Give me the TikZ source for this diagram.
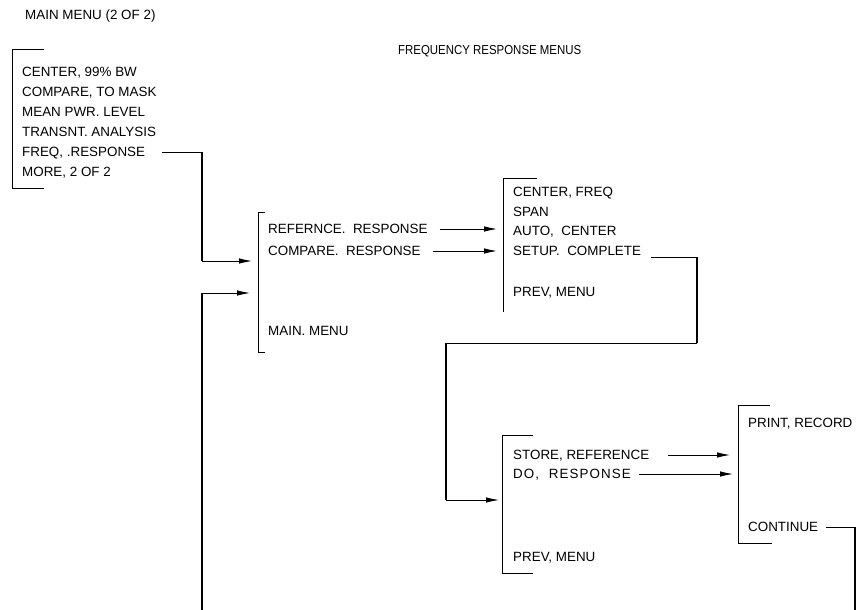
\documentclass[tikz,border=0pt]{standalone}
\usepackage{fontspec}
\setmainfont{Liberation Sans}
\usetikzlibrary{arrows.meta}
\begin{document}
\begin{tikzpicture}[x=1pt,y=-1pt,
  lbl/.style={anchor=west,inner sep=0pt,text height=9.6pt,text depth=0pt,font=\fontsize{13.4}{16}\selectfont},
  hdr/.style={lbl,font=\fontsize{13}{16}\selectfont\addfontfeature{FakeStretch=0.88}},
  brk/.style={line width=0.8pt},
  conn/.style={line width=0.9pt},
  vconn/.style={line width=2pt},
  arr/.style={conn,-{Latex[length=13pt,width=5.5pt]}}]
\useasboundingbox (0,0) rectangle (857,610);

% titles
\node[lbl] (title) at (25,15) {MAIN MENU (2 OF 2)};
\node[hdr] (frm) at (398,50) {FREQUENCY RESPONSE MENUS};

% box 1
\draw[brk] (44,49) -- (12,49) -- (12,188) -- (44,188);
\node[lbl] (m1) at (22,72)  {CENTER, 99\% BW};
\node[lbl] (m2) at (22,92)  {COMPARE, TO MASK};
\node[lbl] (m3) at (22,112) {MEAN PWR. LEVEL};
\node[lbl] (m4) at (22,132) {TRANSNT.\ ANALYSIS};
\node[lbl] (m5) at (22,152) {FREQ, .RESPONSE};
\node[lbl] (m6) at (22,172) {MORE, 2 OF 2};

% box 2
\draw[brk] (265,212) -- (258,212) -- (258,352) -- (265,352);
\node[lbl] (r1) at (268,229) {REFERNCE.\ \ RESPONSE};
\node[lbl] (r2) at (268,251) {COMPARE.\ \ RESPONSE};
\node[lbl] (r3) at (268,331) {MAIN. MENU};

% box 3
\draw[brk] (537,178) -- (503,178) -- (503,312);
\node[lbl] (c1) at (513,192) {CENTER, FREQ};
\node[lbl] (c2) at (513,212) {SPAN};
\node[lbl] (c3) at (513,231) {AUTO,\ \ CENTER};
\node[lbl] (c4) at (513,251) {SETUP.\ \ COMPLETE};
\node[lbl] (c5) at (513,292) {PREV, MENU};

% box 4
\draw[brk] (533,435) -- (502,435) -- (502,573) -- (533,573);
\node[lbl] (s1) at (513,455) {STORE, REFERENCE};
\node[lbl] (s2) at (513,474) {\addfontfeature{LetterSpace=8}DO,\ \ RESPONSE};
\node[lbl] (s3) at (513,557) {PREV, MENU};

% box 5
\draw[brk] (770,405) -- (738,405) -- (738,543) -- (772,543);
\node[lbl] (p1) at (748,423) {PRINT, RECORD};
\node[lbl] (p2) at (748,527) {CONTINUE};

% connector points
\coordinate (b2a) at (252,261);
\coordinate (b2b) at (250,293);
\coordinate (b3a) at (497,229);
\coordinate (b3b) at (497,251);
\coordinate (b4a) at (499,500);
\coordinate (b5a) at (730,455);
\coordinate (b5b) at (733,474);
\coordinate (t1) at (202,152);
\coordinate (t2) at (697,257);
\coordinate (t3) at (697,343);
\coordinate (t4) at (446,343);
\coordinate (t5) at (855,527);
\coordinate (loopL) at (202,610);
\coordinate (loopR) at (855,610);

% connectors
\draw[conn] ([xshift=17pt]m5.east) -- (t1);
\draw[vconn] (t1) -- (t1 |- b2a);
\draw[arr] (t1 |- b2a) -- (b2a);

\draw[vconn] (loopL) -- (loopL |- b2b);
\draw[arr] (loopL |- b2b) -- (b2b);

\draw[arr] ([xshift=12pt]r1.east) -- (b3a);
\draw[arr] ([xshift=12pt]r2.east) -- (b3b);

\draw[conn] ([xshift=10pt,yshift=-6pt]c4.east) -- (t2);
\draw[vconn] (t2) -- (t3);
\draw[conn] (t3) -- (t4);
\draw[vconn] (t4) -- (t4 |- b4a);
\draw[arr] (t4 |- b4a) -- (b4a);

\draw[arr] ([xshift=19pt]s1.east) -- (b5a);
\draw[arr] ([xshift=8pt]s2.east) -- (b5b);

\draw[conn] ([xshift=8pt]p2.east) -- (t5);
\draw[vconn] (t5) -- (loopR);
\end{tikzpicture}
\end{document}
